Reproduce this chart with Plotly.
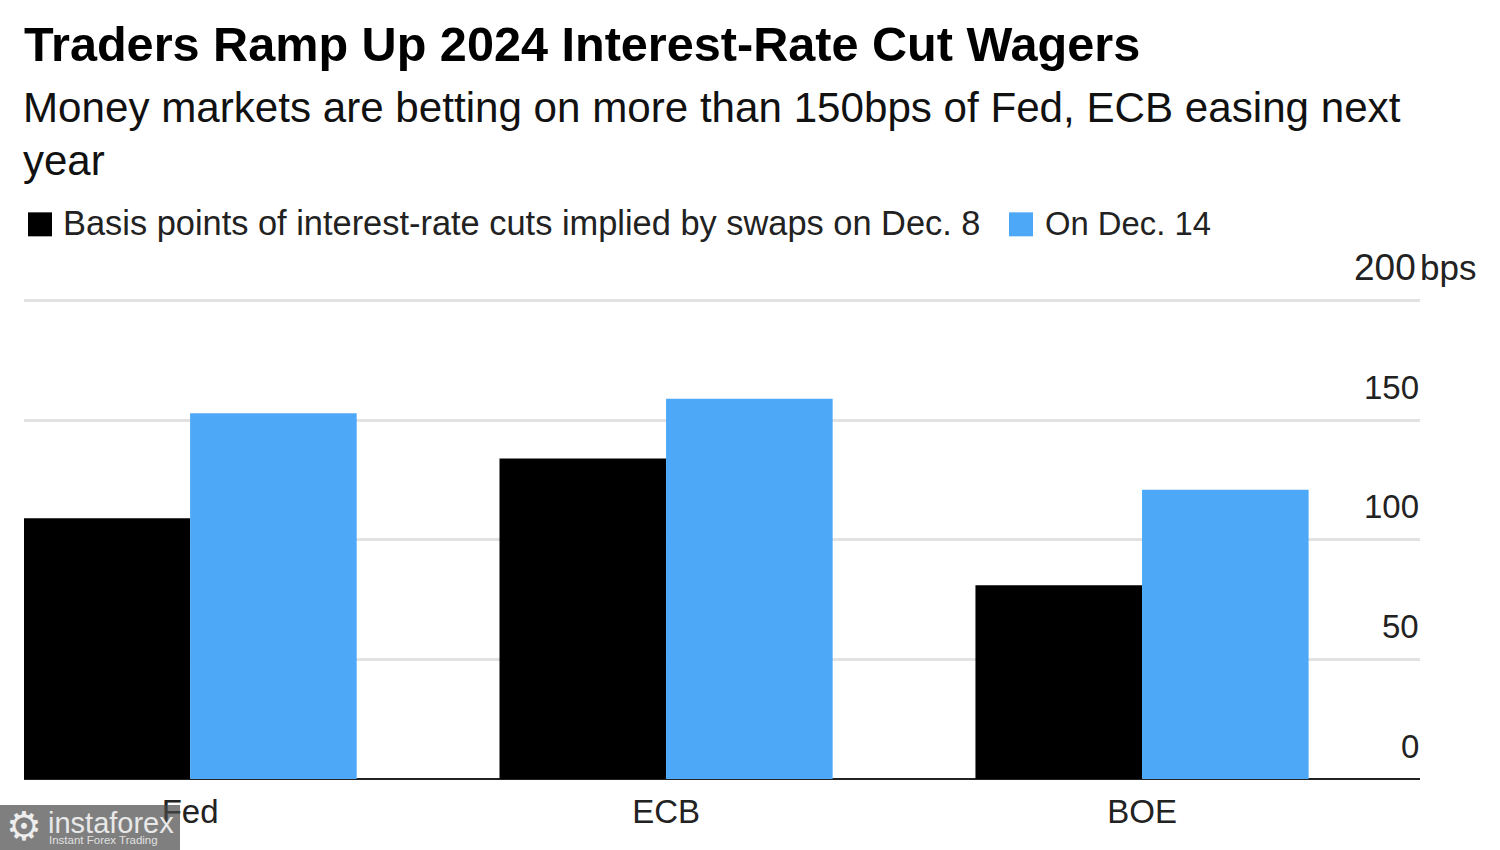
import plotly.graph_objects as go

categories = ["Fed", "ECB", "BOE"]
dec8 = [109, 134, 81]
dec14 = [153, 159, 121]
y_ticks = [0, 50, 100, 150, 200]
y_labels = ["0", "50", "100", "150", "200"]

W, H = 1500, 850
L, R, T, B = 24, 80, 295.7, 71
FONT = "Liberation Sans"
BLACK = "#000000"
BLUE = "#4DA9F7"

fig = go.Figure()
fig.add_bar(name="Basis points of interest-rate cuts implied by swaps on Dec. 8",
            x=categories, y=dec8, marker=dict(color=BLACK, line_width=0))
fig.add_bar(name="On Dec. 14", x=categories, y=dec14,
            marker=dict(color=BLUE, line_width=0))


def text(x, y, s, size, color="#111111", bold=False, anchor="left", **kw):
    fig.add_annotation(xref="paper", yref="paper",
                       x=(x - L) / (W - L - R), y=1 - (y - T) / (H - T - B),
                       text=f"<b>{s}</b>" if bold else s, showarrow=False,
                       xanchor=anchor, yanchor="middle",
                       font=dict(family=FONT, size=size, color=color), **kw)


text(22, 44, "Traders Ramp Up 2024 Interest-Rate Cut Wagers", 48.6, BLACK, True)
text(21, 107, "Money markets are betting on more than 150bps of Fed, ECB easing next", 42.15)
text(21, 160, "year", 42)
text(61, 223, "Basis points of interest-rate cuts implied by swaps on Dec. 8", 34.4, "#222222")
text(1043, 223, "On Dec. 14", 32.8, "#222222")
text(1418, 267, "bps", 35, "#222222")

for v, s in zip(y_ticks, y_labels):
    fig.add_annotation(xref="paper", yref="y", x=1, y=v, text=s, showarrow=False,
                       xanchor="right", yanchor="middle", yshift=33,
                       xshift=-2 if v == 200 else 1,
                       font=dict(family=FONT, size=37 if v == 200 else 33, color="#222222"))


def paper_rect(x0, y0, x1, y1, color, opacity=1):
    fig.add_shape(type="rect", xref="paper", yref="paper", layer="above",
                  x0=(x0 - L) / (W - L - R), x1=(x1 - L) / (W - L - R),
                  y0=1 - (y0 - T) / (H - T - B), y1=1 - (y1 - T) / (H - T - B),
                  fillcolor=color, opacity=opacity, line_width=0)


paper_rect(28, 212, 52, 236, BLACK)
paper_rect(1009, 212, 1033, 236, BLUE)
paper_rect(0, 805, 180, 850, "#484848", 0.7)
text(24, 826, "⚙", 40, "#EDEDED", anchor="center")
text(46, 823, "instaforex", 29, "#E8E8E8")
text(47, 840, "Instant Forex Trading", 11.5, "#E0E0E0")

fig.update_layout(
    width=W, height=H, autosize=False,
    margin=dict(l=L, r=R, t=T, b=B, pad=0),
    paper_bgcolor="white", plot_bgcolor="white",
    barmode="group", bargap=0.3, bargroupgap=0,
    showlegend=False,
    font=dict(family=FONT),
    xaxis=dict(range=[-0.349, 2.584], showgrid=False, ticks="", zeroline=False,
               showline=False, ticklabelstandoff=10,
               tickfont=dict(family=FONT, size=33, color="#222222")),
    yaxis=dict(range=[0, 202], tickvals=y_ticks, showticklabels=False, ticks="",
               gridcolor="#E2E2E2", gridwidth=3, zeroline=True,
               zerolinecolor="#222222", zerolinewidth=2, showline=False),
)
fig.write_html("out.html", post_script="document.body.style.margin='0';",
               config={"displayModeBar": False})
